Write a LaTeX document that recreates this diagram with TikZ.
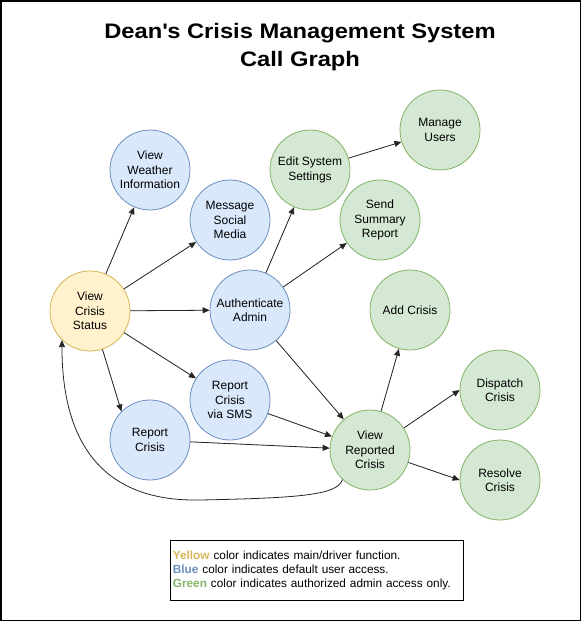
\documentclass[tikz,border=0pt]{standalone}
\usepackage{fontspec}
\setmainfont{Liberation Sans}
\newfontfamily\titlefont{Liberation Sans}[FakeStretch=1.13]
\usetikzlibrary{arrows.meta}
\definecolor{yfill}{HTML}{FFF2CC}
\definecolor{ydraw}{HTML}{D6B656}
\definecolor{bfill}{HTML}{DAE8FC}
\definecolor{bdraw}{HTML}{6C8EBF}
\definecolor{gfill}{HTML}{D5E8D4}
\definecolor{gdraw}{HTML}{82B366}
\begin{document}
\begin{tikzpicture}[x=1pt,y=-1pt,
  fn/.style={circle, minimum size=80pt, inner sep=0pt, line width=0.8pt, align=center, font=\fontsize{12}{14.4}\selectfont},
  yel/.style={fn, fill=yfill, draw=ydraw},
  blu/.style={fn, fill=bfill, draw=bdraw},
  grn/.style={fn, fill=gfill, draw=gdraw},
  call/.style={-{Triangle[length=7pt,width=6pt]}, line width=0.8pt, draw=black!85, fill=black!85},
]
\useasboundingbox (0,0) rectangle (581,621);
\draw[line width=1.5pt] (0.75,0.75) rectangle (580.25,620.25);

\node (title) at (300,47) [inner sep=0pt, align=center, font=\titlefont\bfseries\fontsize{21}{28.4}\selectfont]
  {Dean\textquotesingle s Crisis Management System\\Call Graph};

\node[yel] (vcs) at (90,311) {View\\Crisis\\Status};
\node[blu] (weather) at (150,170) {View\\Weather\\Information};
\node[blu] (msg) at (230,220) {Message\\Social\\Media};
\node[blu] (auth) at (250,310) {Authenticate\\Admin};
\node[grn] (edit) at (310,170) {Edit System\\Settings};
\node[grn] (manage) at (440,130) {Manage\\Users};
\node[grn] (summary) at (380,220) {Send\\Summary\\Report};
\node[grn] (add) at (410,310) {Add Crisis};
\node[blu] (sms) at (230,400) {Report\\Crisis\\via SMS};
\node[blu] (report) at (150,440) {Report\\Crisis};
\node[grn] (vrc) at (370,450) {View\\Reported\\Crisis};
\node[grn] (dispatch) at (500,390) {Dispatch\\Crisis};
\node[grn] (resolve) at (500,480) {Resolve\\Crisis};

\draw[call] (vcs) -- (weather);
\draw[call] (vcs) -- (msg);
\draw[call] (vcs) -- (auth);
\draw[call] (vcs) -- (sms);
\draw[call] (vcs.-72) -- (report.135);
\draw[call] (auth) -- (edit);
\draw[call] (auth) -- (summary);
\draw[call] (auth) -- (vrc);
\draw[call] (edit) -- (manage);
\draw[call] (sms) -- (vrc);
\draw[call] (report) -- (vrc);
\draw[call] (vrc) -- (add);
\draw[call] (vrc.33) -- (dispatch.180);
\draw[call] (vrc.-18) -- (resolve.180);
\coordinate (loop) at (200,500);
\draw[call, fill=none] (vrc.227) .. controls (338,495) and (300,498) .. (loop)
  .. controls (100,502) and (62,440) .. (vcs.226);

\node (legend) at (170,540) [draw, line width=0.8pt, anchor=north west, minimum width=292pt, minimum height=60pt,
  text width=288pt, inner xsep=2.5pt, inner ysep=0pt, align=left, font=\fontsize{11.8}{14.2}\selectfont]
  {\textcolor{ydraw}{\bfseries Yellow} color indicates main/driver function.\\
   \textcolor{bdraw}{\bfseries Blue} color indicates default user access.\\
   \textcolor{gdraw}{\bfseries Green} color indicates authorized admin access only.};
\end{tikzpicture}
\end{document}
